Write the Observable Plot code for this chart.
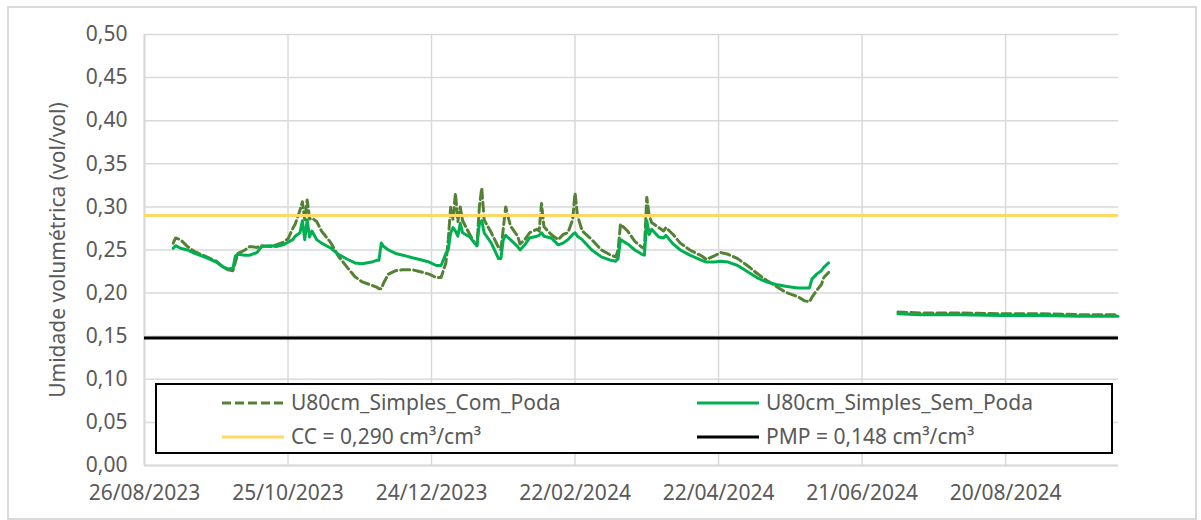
<!DOCTYPE html>
<html>
<head>
<meta charset="utf-8">
<script src="https://cdn.jsdelivr.net/npm/d3@7"></script>
<script src="https://cdn.jsdelivr.net/npm/@observablehq/plot@0.6"></script>
<style>
  html, body { margin: 0; padding: 0; background: white; }
  #wrap { position: relative; width: 1201px; height: 520px; overflow: hidden; font-family: "Noto Sans", sans-serif; }
  #border { position: absolute; left: 7px; top: 6px; width: 1186px; height: 510px; border: 2px solid #d9d9d9; pointer-events: none; }
  #legend { position: absolute; left: 155px; top: 383px; width: 954px; height: 67px; border: 2px solid #000; background: white; }
  #legend svg { position: absolute; left: 0; top: 0; }
</style>
</head>
<body>
<div id="wrap"><div id="border"></div></div>
<script>
const dates = [
"2023-09-07","2023-09-08","2023-09-10","2023-09-13","2023-09-16","2023-09-21","2023-09-25","2023-09-28","2023-09-30","2023-10-02",
"2023-10-03","2023-10-04","2023-10-07","2023-10-09","2023-10-12","2023-10-14","2023-10-18","2023-10-20","2023-10-23","2023-10-25",
"2023-10-27","2023-10-28","2023-10-30","2023-10-31","2023-11-01","2023-11-02","2023-11-03","2023-11-04","2023-11-06","2023-11-08",
"2023-11-12","2023-11-15","2023-11-19","2023-11-22","2023-11-25","2023-11-29","2023-12-01","2023-12-02","2023-12-03","2023-12-04",
"2023-12-06","2023-12-09","2023-12-12","2023-12-16","2023-12-19","2023-12-23","2023-12-26","2023-12-28","2023-12-30","2023-12-31",
"2024-01-01","2024-01-02","2024-01-03","2024-01-04","2024-01-05","2024-01-06","2024-01-09","2024-01-11","2024-01-12","2024-01-13",
"2024-01-14","2024-01-15","2024-01-18","2024-01-21","2024-01-22","2024-01-23","2024-01-24","2024-01-26","2024-01-29","2024-01-30",
"2024-02-01","2024-02-03","2024-02-06","2024-02-07","2024-02-08","2024-02-09","2024-02-12","2024-02-15","2024-02-17","2024-02-19",
"2024-02-21","2024-02-22","2024-02-23","2024-02-25","2024-02-29","2024-03-04","2024-03-08","2024-03-10","2024-03-11","2024-03-12",
"2024-03-15","2024-03-18","2024-03-21","2024-03-22","2024-03-23","2024-03-24","2024-03-25","2024-03-28","2024-03-30","2024-03-31",
"2024-04-03","2024-04-06","2024-04-10","2024-04-15","2024-04-17","2024-04-20","2024-04-23","2024-04-26","2024-04-30","2024-05-04",
"2024-05-08","2024-05-12","2024-05-16","2024-05-20","2024-05-25","2024-05-28","2024-05-30","2024-05-31","2024-06-02","2024-06-04",
"2024-06-05","2024-06-07",
"2024-06-20",
"2024-07-06","2024-07-15","2024-08-01","2024-08-18","2024-09-04","2024-09-20","2024-10-06"
];

const comPoda = [
.258,.264,.262,.254,.248,.242,.237,.230,.227,.226,
.236,.246,.250,.254,.253,.255,.254,.256,.259,.263,
.275,.280,.296,.306,.285,.308,.286,.287,.283,.272,
.258,.243,.229,.219,.213,.209,.207,.205,.205,.212,
.222,.226,.227,.227,.225,.222,.218,.218,.235,.262,
.300,.285,.316,.283,.300,.284,.268,.258,.255,.300,
.322,.285,.270,.253,.250,.275,.300,.278,.266,.257,
.262,.270,.274,.272,.304,.277,.268,.262,.268,.270,
.285,.316,.290,.272,.262,.250,.244,.242,.250,.280,
.272,.260,.253,.252,.311,.290,.282,.276,.272,.276,
.268,.258,.250,.243,.239,.243,.247,.245,.240,.232,
.223,.215,.208,.201,.196,.191,.190,.195,.203,.210,
.218,.224,
null,
.178,.177,.177,.176,.176,.175,.175
];

const semPoda = [
.252,.255,.252,.250,.246,.241,.236,.230,.228,.229,
.243,.245,.244,.244,.247,.254,.255,.254,.256,.259,
.262,.266,.270,.284,.262,.285,.265,.272,.262,.258,
.252,.245,.239,.235,.234,.236,.238,.238,.258,.254,
.250,.246,.244,.241,.239,.236,.232,.232,.246,.250,
.270,.276,.272,.266,.281,.270,.265,.258,.255,.280,
.284,.270,.258,.240,.240,.262,.267,.262,.254,.250,
.256,.264,.266,.267,.270,.266,.264,.256,.258,.262,
.268,.270,.266,.262,.250,.242,.238,.237,.240,.262,
.257,.250,.245,.244,.284,.268,.274,.265,.264,.267,
.257,.250,.244,.238,.236,.236,.237,.236,.232,.225,
.218,.213,.210,.208,.206,.206,.206,.216,.222,.226,
.230,.235,
null,
.176,.175,.175,.174,.174,.173,.173
];

const ccValue = 0.290;
const pmpValue = 0.148;

const yTicks = [0, 0.05, 0.10, 0.15, 0.20, 0.25, 0.30, 0.35, 0.40, 0.45, 0.50];
const xTickLabels = ["2023-08-26","2023-10-25","2023-12-24","2024-02-22","2024-04-22","2024-06-21","2024-08-20"];
const xDomain = ["2023-08-26", "2024-10-06T05:00:00Z"];

const seriesNames = ["U80cm_Simples_Com_Poda", "U80cm_Simples_Sem_Poda", "CC = 0,290 cm³/cm³", "PMP = 0,148 cm³/cm³"];
const yLabel = "Umidade volumétrica (vol/vol)";

const rows = dates.map((d, i) => ({date: new Date(d), com: comPoda[i], sem: semPoda[i]}));
const xTicks = xTickLabels.map(d => new Date(d));

const colCom = "#548235", colSem = "#00b050", colCC = "#ffd966", colPMP = "#000000";
const grid = "#d9d9d9", txt = "#595959";

const chart = Plot.plot({
  width: 1201,
  height: 520,
  marginLeft: 144,
  marginRight: 83,
  marginTop: 34,
  marginBottom: 55,
  style: {fontFamily: "'Noto Sans', sans-serif", fontSize: "21px", color: txt, background: "transparent"},
  x: {type: "utc", domain: xDomain.map(d => new Date(d))},
  y: {domain: [0, 0.5]},
  marks: [
    Plot.gridY(yTicks, {stroke: grid, strokeOpacity: 1, strokeWidth: 1.5}),
    Plot.gridX(xTicks, {stroke: grid, strokeOpacity: 1, strokeWidth: 1.5}),
    Plot.ruleX([xTicks[0]], {stroke: grid, strokeWidth: 2}),
    Plot.ruleY([0], {stroke: grid, strokeWidth: 2}),
    Plot.axisY(yTicks, {tickSize: 0, tickPadding: 17, tickFormat: d => d.toFixed(2).replace(".", ","), label: null, fill: txt}),
    Plot.axisX(xTicks, {tickSize: 0, tickPadding: 20, tickFormat: d3.utcFormat("%d/%m/%Y"), label: null, fill: txt}),
    Plot.text([yLabel], {frameAnchor: "left", textAnchor: "middle", rotate: -90, dx: -86, fill: txt, fontSize: 21}),
    Plot.line(rows, {x: "date", y: "com", stroke: colCom, strokeWidth: 3, strokeDasharray: "9,4", strokeLinejoin: "round"}),
    Plot.line(rows, {x: "date", y: "sem", stroke: colSem, strokeWidth: 3, strokeLinejoin: "round"}),
    Plot.ruleY([ccValue], {stroke: colCC, strokeWidth: 3}),
    Plot.ruleY([pmpValue], {stroke: colPMP, strokeWidth: 3})
  ]
});

const wrap = document.getElementById("wrap");
wrap.insertBefore(chart, wrap.firstChild);

// Legend (overlay box inside the plot, as in the reference)
const legend = document.createElement("div");
legend.id = "legend";
const ns = "http://www.w3.org/2000/svg";
const lsvg = document.createElementNS(ns, "svg");
lsvg.setAttribute("width", 954);
lsvg.setAttribute("height", 67);
const items = [
  {name: seriesNames[0], color: colCom, dash: "9,4", x: 65, y: 18},
  {name: seriesNames[1], color: colSem, dash: null, x: 540, y: 18},
  {name: seriesNames[2], color: colCC, dash: null, x: 65, y: 52},
  {name: seriesNames[3], color: colPMP, dash: null, x: 540, y: 52}
];
for (const it of items) {
  const ln = document.createElementNS(ns, "line");
  ln.setAttribute("x1", it.x); ln.setAttribute("x2", it.x + 62);
  ln.setAttribute("y1", it.y); ln.setAttribute("y2", it.y);
  ln.setAttribute("stroke", it.color); ln.setAttribute("stroke-width", 3);
  if (it.dash) ln.setAttribute("stroke-dasharray", it.dash);
  lsvg.appendChild(ln);
  const t = document.createElementNS(ns, "text");
  t.setAttribute("x", it.x + 69); t.setAttribute("y", it.y);
  t.setAttribute("dy", "0.35em");
  t.setAttribute("fill", txt);
  t.setAttribute("font-family", "'Noto Sans', sans-serif");
  t.setAttribute("font-size", "21px");
  t.textContent = it.name;
  lsvg.appendChild(t);
}
legend.appendChild(lsvg);
wrap.appendChild(legend);
</script>
</body>
</html>
